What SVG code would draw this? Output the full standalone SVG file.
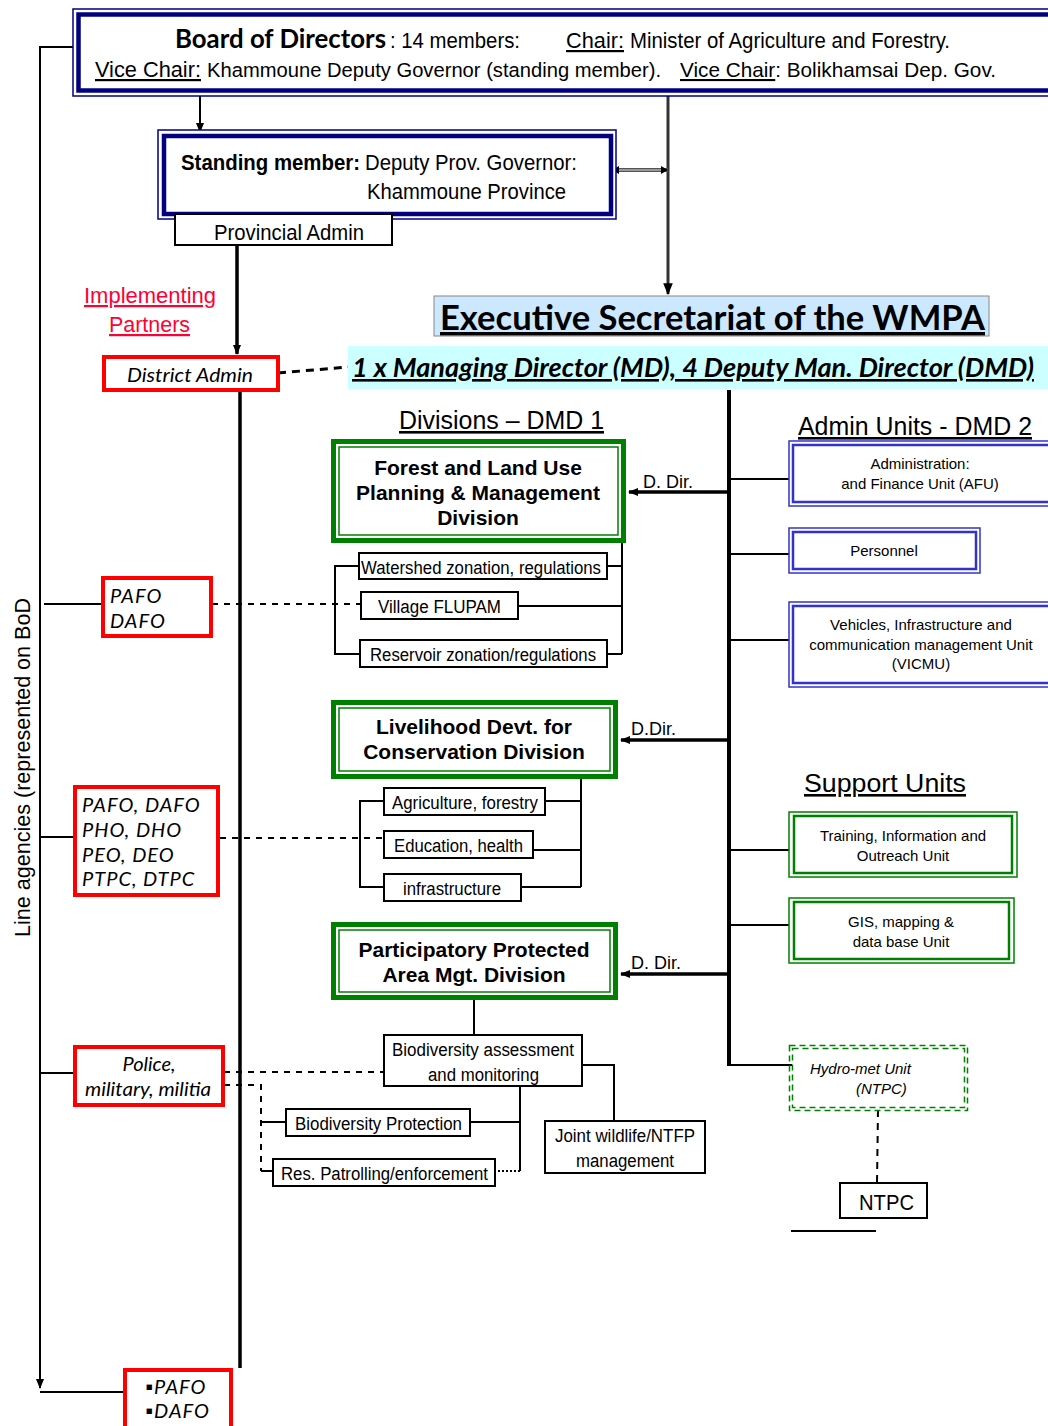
<svg xmlns="http://www.w3.org/2000/svg" width="1048" height="1426" viewBox="0 0 1048 1426">
  <defs>
    <marker id="arrS" viewBox="0 0 10 10" refX="9" refY="5" markerWidth="10" markerHeight="10" orient="auto-start-reverse" markerUnits="userSpaceOnUse">
      <path d="M0,1 L10,5 L0,9 z" fill="#000"/>
    </marker>
    <marker id="arrM" viewBox="0 0 10 10" refX="9" refY="5" markerWidth="12" markerHeight="12" orient="auto-start-reverse" markerUnits="userSpaceOnUse">
      <path d="M0,1 L10,5 L0,9 z" fill="#000"/>
    </marker>
  </defs>
  <style>
    text { font-family: "Liberation Sans", Arial, sans-serif; fill: #000; }
    .n22 { font-size: 22px; }
    .n18 { font-size: 18px; }
    .n15 { font-size: 15px; }
    .title { font-family: Lato, "Open Sans", sans-serif; font-weight: bold; }
    .it { font-family: Lato, "Open Sans", sans-serif; font-style: italic; font-size: 20px; }
    .ul { text-decoration: underline; }
    .redtxt { fill: #ff0033; }
    .box { fill: #fff; stroke: #000; stroke-width: 2; }
    .red { fill: #fff; stroke: #ff0000; stroke-width: 4; }
    .navyO { fill: #fff; stroke: #000080; stroke-width: 1.5; }
    .navyI { fill: none; stroke: #000080; stroke-width: 4.5; }
    .greenO { fill: #fff; stroke: #008000; stroke-width: 5; }
    .greenI { fill: none; stroke: #008000; stroke-width: 1.5; }
    .blueO { fill: #fff; stroke: #3333cc; stroke-width: 1.5; }
    .blueI { fill: none; stroke: #3333cc; stroke-width: 2.5; }
    .sgO { fill: #fff; stroke: #008000; stroke-width: 1.5; }
    .sgI { fill: none; stroke: #008000; stroke-width: 2.5; }
    .gdash { fill: none; stroke: #008000; stroke-width: 1.5; stroke-dasharray: 6 4; }
    .ln { fill: none; stroke: #000; stroke-width: 2; }
    .thick { fill: none; stroke: #000; stroke-width: 3.5; }
    .dash { fill: none; stroke: #000; stroke-width: 2; stroke-dasharray: 6 6; }
  </style>

  <!-- connectors -->
  <g id="connectors">
    <!-- line agencies rail -->
    <path class="ln" d="M78,47 H40 V1388" marker-end="url(#arrS)"/>
    <path class="ln" d="M40,1392 H125"/>
    <path class="ln" d="M44,604 H103"/>
    <path class="ln" d="M40,837 H75"/>
    <path class="ln" d="M40,1073 H75"/>
    <!-- board to standing member / secretariat -->
    <path class="ln" d="M200,96 V132" marker-end="url(#arrS)"/>
    <path d="M668,96 V294" fill="none" stroke="#333" stroke-width="3" marker-end="url(#arrM)"/>
    <path d="M612,170 H668" fill="none" stroke="#555" stroke-width="4"/>
    <path d="M614,170 H666" fill="none" stroke="#ddd" stroke-width="1.2"/>
    <path d="M612,170 l7,-4 v8 z M668,170 l-7,-4 v8 z" fill="#000"/>
    <!-- provincial to district -->
    <path class="thick" d="M237,245 V354" marker-end="url(#arrS)"/>
    <path class="thick" d="M240,390 V1368"/>
    <path d="M278,373 L348,367" fill="none" stroke="#000" stroke-width="3" stroke-dasharray="8 6"/>
    <!-- secretariat spine -->
    <path d="M729,390 V1066" fill="none" stroke="#000" stroke-width="4"/>
    <path class="ln" d="M729,1065 H792"/>
    <path class="thick" d="M729,492 H629" marker-end="url(#arrS)"/>
    <path class="thick" d="M729,740 H621" marker-end="url(#arrS)"/>
    <path class="thick" d="M729,974 H621" marker-end="url(#arrS)"/>
    <path class="ln" d="M729,479 H789 M729,554 H789 M729,640 H789 M729,850 H789 M729,925 H789"/>
    <!-- forest division sub-units -->
    <path class="ln" d="M622,543 V654 M607,566 H622 M518,606 H622 M607,654 H622"/>
    <path class="ln" d="M359,566 H335 V654 H360"/>
    <path class="dash" d="M212,604 H360"/>
    <!-- livelihood sub-units -->
    <path class="ln" d="M581,779 V887 M545,801 H581 M533,850 H581 M521,887 H581"/>
    <path class="ln" d="M384,801 H360 V887 H384"/>
    <path class="dash" d="M220,838 H384"/>
    <!-- protected area sub-units -->
    <path class="ln" d="M474,1000 V1035"/>
    <path class="ln" d="M580,1065 H614 V1121"/>
    <path class="ln" d="M520,1085 V1171 M470,1122 H520"/>
    <path d="M498,1171 H520" fill="none" stroke="#000" stroke-width="2" stroke-dasharray="2 2"/>
    <path class="dash" d="M224,1072 H384"/>
    <path class="dash" d="M224,1085 H261 V1171"/>
    <path class="ln" d="M261,1122 H286 M261,1171 H273"/>
    <!-- hydro-met to NTPC -->
    <path d="M878,1110 L877,1183" fill="none" stroke="#000" stroke-width="2" stroke-dasharray="7 6"/>
    <path class="ln" d="M791,1231 H876"/>
  </g>

  <!-- board of directors -->
  <g id="board">
    <rect class="navyO" x="73" y="9" width="990" height="87"/>
    <rect class="navyI" x="78.5" y="14.5" width="980" height="76"/>
    <text class="title" x="175" y="48" font-size="26" textLength="211" lengthAdjust="spacingAndGlyphs">Board of Directors</text>
    <text class="n22" x="390" y="48" textLength="130" lengthAdjust="spacingAndGlyphs">: 14 members:</text>
    <text class="n22 ul" x="566" y="48" textLength="58" lengthAdjust="spacingAndGlyphs">Chair:</text>
    <text class="n22" x="630" y="48" textLength="320" lengthAdjust="spacingAndGlyphs">Minister of Agriculture and Forestry.</text>
    <text class="n22 ul" x="95" y="77" textLength="106" lengthAdjust="spacingAndGlyphs">Vice Chair:</text>
    <text x="207" y="77" font-size="20.5" textLength="454" lengthAdjust="spacingAndGlyphs">Khammoune Deputy Governor (standing member).</text>
    <text x="680" y="77" font-size="21" textLength="316" lengthAdjust="spacingAndGlyphs"><tspan class="ul">Vice Chair</tspan>: Bolikhamsai Dep. Gov.</text>
  </g>

  <!-- standing member -->
  <g id="standing">
    <rect class="navyO" x="158" y="130" width="458" height="89"/>
    <rect class="navyI" x="164" y="136" width="447" height="78"/>
    <text class="n22" x="181" y="170" font-weight="bold" textLength="179" lengthAdjust="spacingAndGlyphs">Standing member:</text>
    <text class="n22" x="365" y="170" textLength="212" lengthAdjust="spacingAndGlyphs">Deputy Prov. Governor:</text>
    <text class="n22" x="367" y="199" textLength="199" lengthAdjust="spacingAndGlyphs">Khammoune Province</text>
  </g>

  <g id="provincial">
    <rect class="box" x="175" y="214" width="217" height="31"/>
    <text class="n22" x="214" y="240" textLength="150" lengthAdjust="spacingAndGlyphs">Provincial Admin</text>
  </g>

  <g id="partners">
    <text class="n22 ul redtxt" x="84" y="303" textLength="132" lengthAdjust="spacingAndGlyphs">Implementing</text>
    <text class="n22 ul redtxt" x="109" y="332" textLength="81" lengthAdjust="spacingAndGlyphs">Partners</text>
  </g>

  <g id="district">
    <rect class="red" x="104" y="357" width="174" height="33"/>
    <text class="it" x="127" y="382" textLength="126" lengthAdjust="spacingAndGlyphs">District Admin</text>
  </g>

  <g id="secretariat">
    <rect x="434" y="296" width="555" height="40" fill="#cce8ff" stroke="#888" stroke-width="1"/>
    <text class="title ul" x="440" y="330" font-size="34" textLength="545" lengthAdjust="spacingAndGlyphs">Executive Secretariat of the WMPA</text>
  </g>

  <g id="directors">
    <rect x="348" y="346" width="700" height="43" fill="#ccffff"/>
    <text class="title ul" x="352" y="377" font-size="26" font-style="italic" textLength="682" lengthAdjust="spacingAndGlyphs">1 x Managing Director (MD), 4 Deputy Man. Director (DMD)</text>
  </g>

  <g id="headings">
    <text class="ul" x="399" y="429" font-size="26" textLength="205" lengthAdjust="spacingAndGlyphs">Divisions – DMD 1</text>
    <text class="ul" x="798" y="435" font-size="26" textLength="234" lengthAdjust="spacingAndGlyphs">Admin Units - DMD 2</text>
    <text class="ul" x="804" y="792" font-size="26" textLength="162" lengthAdjust="spacingAndGlyphs"> Support Units</text>
  </g>

  <!-- divisions -->
  <g id="forest-division">
    <rect class="greenO" x="333.5" y="441.5" width="290" height="99"/>
    <rect class="greenI" x="339" y="447" width="279" height="88"/>
    <g class="title" font-size="21" text-anchor="middle">
      <text x="478" y="475">Forest and Land Use</text>
      <text x="478" y="500">Planning &amp; Management</text>
      <text x="478" y="525">Division</text>
    </g>
    <text class="n18" x="643" y="488">D. Dir.</text>
  </g>
  <g id="watershed">
    <rect class="box" x="359" y="553" width="248" height="26"/>
    <text class="n18" x="361" y="574" textLength="240" lengthAdjust="spacingAndGlyphs">Watershed zonation, regulations</text>
  </g>
  <g id="flupam">
    <rect class="box" x="361" y="592" width="157" height="27"/>
    <text class="n18" x="378" y="613" textLength="123" lengthAdjust="spacingAndGlyphs">Village FLUPAM</text>
  </g>
  <g id="reservoir">
    <rect class="box" x="360" y="640" width="247" height="27"/>
    <text class="n18" x="370" y="661" textLength="226" lengthAdjust="spacingAndGlyphs">Reservoir zonation/regulations</text>
  </g>

  <g id="livelihood-division">
    <rect class="greenO" x="333.5" y="702.5" width="282" height="74"/>
    <rect class="greenI" x="339" y="708" width="271" height="63"/>
    <g class="title" font-size="21" text-anchor="middle">
      <text x="474" y="734">Livelihood Devt. for</text>
      <text x="474" y="759">Conservation Division</text>
    </g>
    <text class="n18" x="631" y="735">D.Dir.</text>
  </g>
  <g id="agriculture">
    <rect class="box" x="384" y="788" width="161" height="27"/>
    <text class="n18" x="392" y="809" textLength="146" lengthAdjust="spacingAndGlyphs">Agriculture, forestry</text>
  </g>
  <g id="education">
    <rect class="box" x="384" y="831" width="149" height="27"/>
    <text class="n18" x="394" y="852" textLength="129" lengthAdjust="spacingAndGlyphs">Education, health</text>
  </g>
  <g id="infrastructure">
    <rect class="box" x="384" y="874" width="137" height="27"/>
    <text class="n18" x="403" y="895" textLength="98" lengthAdjust="spacingAndGlyphs">infrastructure</text>
  </g>

  <g id="protected-division">
    <rect class="greenO" x="333.5" y="924.5" width="282" height="73"/>
    <rect class="greenI" x="339" y="930" width="271" height="62"/>
    <g class="title" font-size="21" text-anchor="middle">
      <text x="474" y="957">Participatory Protected</text>
      <text x="474" y="982">Area Mgt. Division</text>
    </g>
    <text class="n18" x="631" y="969">D. Dir.</text>
  </g>
  <g id="biodiversity-assessment">
    <rect class="box" x="384" y="1035" width="198" height="51"/>
    <text class="n18" x="392" y="1056" textLength="182" lengthAdjust="spacingAndGlyphs">Biodiversity assessment</text>
    <text class="n18" x="428" y="1081" textLength="111" lengthAdjust="spacingAndGlyphs">and monitoring</text>
  </g>
  <g id="biodiversity-protection">
    <rect class="box" x="286" y="1109" width="184" height="27"/>
    <text class="n18" x="295" y="1130" textLength="167" lengthAdjust="spacingAndGlyphs">Biodiversity Protection</text>
  </g>
  <g id="patrolling">
    <rect class="box" x="273" y="1159" width="222" height="27"/>
    <text class="n18" x="281" y="1180" textLength="207" lengthAdjust="spacingAndGlyphs">Res. Patrolling/enforcement</text>
  </g>
  <g id="joint-wildlife">
    <rect class="box" x="545" y="1121" width="160" height="52"/>
    <text class="n18" x="555" y="1142" textLength="140" lengthAdjust="spacingAndGlyphs">Joint wildlife/NTFP</text>
    <text class="n18" x="576" y="1167" textLength="98" lengthAdjust="spacingAndGlyphs">management</text>
  </g>

  <!-- admin units -->
  <g id="afu">
    <rect class="blueO" x="789" y="441" width="265" height="65"/>
    <rect class="blueI" x="793" y="445" width="265" height="57"/>
    <text class="n15" x="920" y="469" text-anchor="middle">Administration:</text>
    <text class="n15" x="920" y="489" text-anchor="middle">and Finance Unit (AFU)</text>
  </g>
  <g id="personnel">
    <rect class="blueO" x="789" y="528" width="191" height="45"/>
    <rect class="blueI" x="793" y="532" width="183" height="37"/>
    <text class="n15" x="884" y="556" text-anchor="middle">Personnel</text>
  </g>
  <g id="vicmu">
    <rect class="blueO" x="789" y="602" width="265" height="85"/>
    <rect class="blueI" x="793" y="606" width="265" height="77"/>
    <text class="n15" x="921" y="630" text-anchor="middle">Vehicles, Infrastructure and</text>
    <text class="n15" x="921" y="650" text-anchor="middle">communication  management Unit</text>
    <text class="n15" x="921" y="669" text-anchor="middle">(VICMU)</text>
  </g>

  <!-- support units -->
  <g id="training">
    <rect class="sgO" x="789" y="812" width="228" height="65"/>
    <rect class="sgI" x="794" y="816" width="218" height="57"/>
    <text class="n15" x="903" y="841" text-anchor="middle">Training, Information and</text>
    <text class="n15" x="903" y="861" text-anchor="middle">Outreach Unit</text>
  </g>
  <g id="gis">
    <rect class="sgO" x="789" y="898" width="225" height="65"/>
    <rect class="sgI" x="794" y="902" width="215" height="57"/>
    <text class="n15" x="901" y="927" text-anchor="middle">GIS, mapping &amp;</text>
    <text class="n15" x="901" y="947" text-anchor="middle">data base Unit</text>
  </g>
  <g id="hydromet">
    <rect class="gdash" x="789.5" y="1045.5" width="178" height="65"/>
    <rect class="gdash" x="792.5" y="1048.5" width="172" height="59"/>
    <text class="n15" x="810" y="1074" font-style="italic">Hydro-met Unit</text>
    <text class="n15" x="856" y="1094" font-style="italic">(NTPC)</text>
  </g>
  <g id="ntpc">
    <rect class="box" x="840" y="1183" width="87" height="35"/>
    <text class="n22" x="859" y="1210" textLength="55" lengthAdjust="spacingAndGlyphs">NTPC</text>
  </g>

  <!-- line agencies -->
  <g id="line-agencies-label">
    <text class="n22" transform="translate(30,937) rotate(-90)" textLength="339" lengthAdjust="spacingAndGlyphs">Line agencies (represented on BoD</text>
  </g>
  <g id="pafo-dafo-1">
    <rect class="red" x="103" y="578" width="108" height="58"/>
    <text class="it" x="110" y="603" letter-spacing="1">PAFO</text>
    <text class="it" x="110" y="628" letter-spacing="1">DAFO</text>
  </g>
  <g id="sector-offices">
    <rect class="red" x="75" y="787" width="143" height="108"/>
    <text class="it" x="82" y="812" letter-spacing="1">PAFO, DAFO</text>
    <text class="it" x="82" y="837" letter-spacing="1">PHO, DHO</text>
    <text class="it" x="82" y="862" letter-spacing="1">PEO, DEO</text>
    <text class="it" x="82" y="886" letter-spacing="1">PTPC, DTPC</text>
  </g>
  <g id="police">
    <rect class="red" x="75" y="1047" width="148" height="58"/>
    <text class="it" x="149" y="1071" text-anchor="middle">Police,</text>
    <text class="it" x="85" y="1096" textLength="126" lengthAdjust="spacingAndGlyphs">military, militia</text>
  </g>
  <g id="pafo-dafo-2">
    <rect class="red" x="125" y="1370" width="106" height="58"/>
    <text class="it" x="145" y="1394" letter-spacing="1">▪PAFO</text>
    <text class="it" x="145" y="1418" letter-spacing="1">▪DAFO</text>
  </g>
</svg>
